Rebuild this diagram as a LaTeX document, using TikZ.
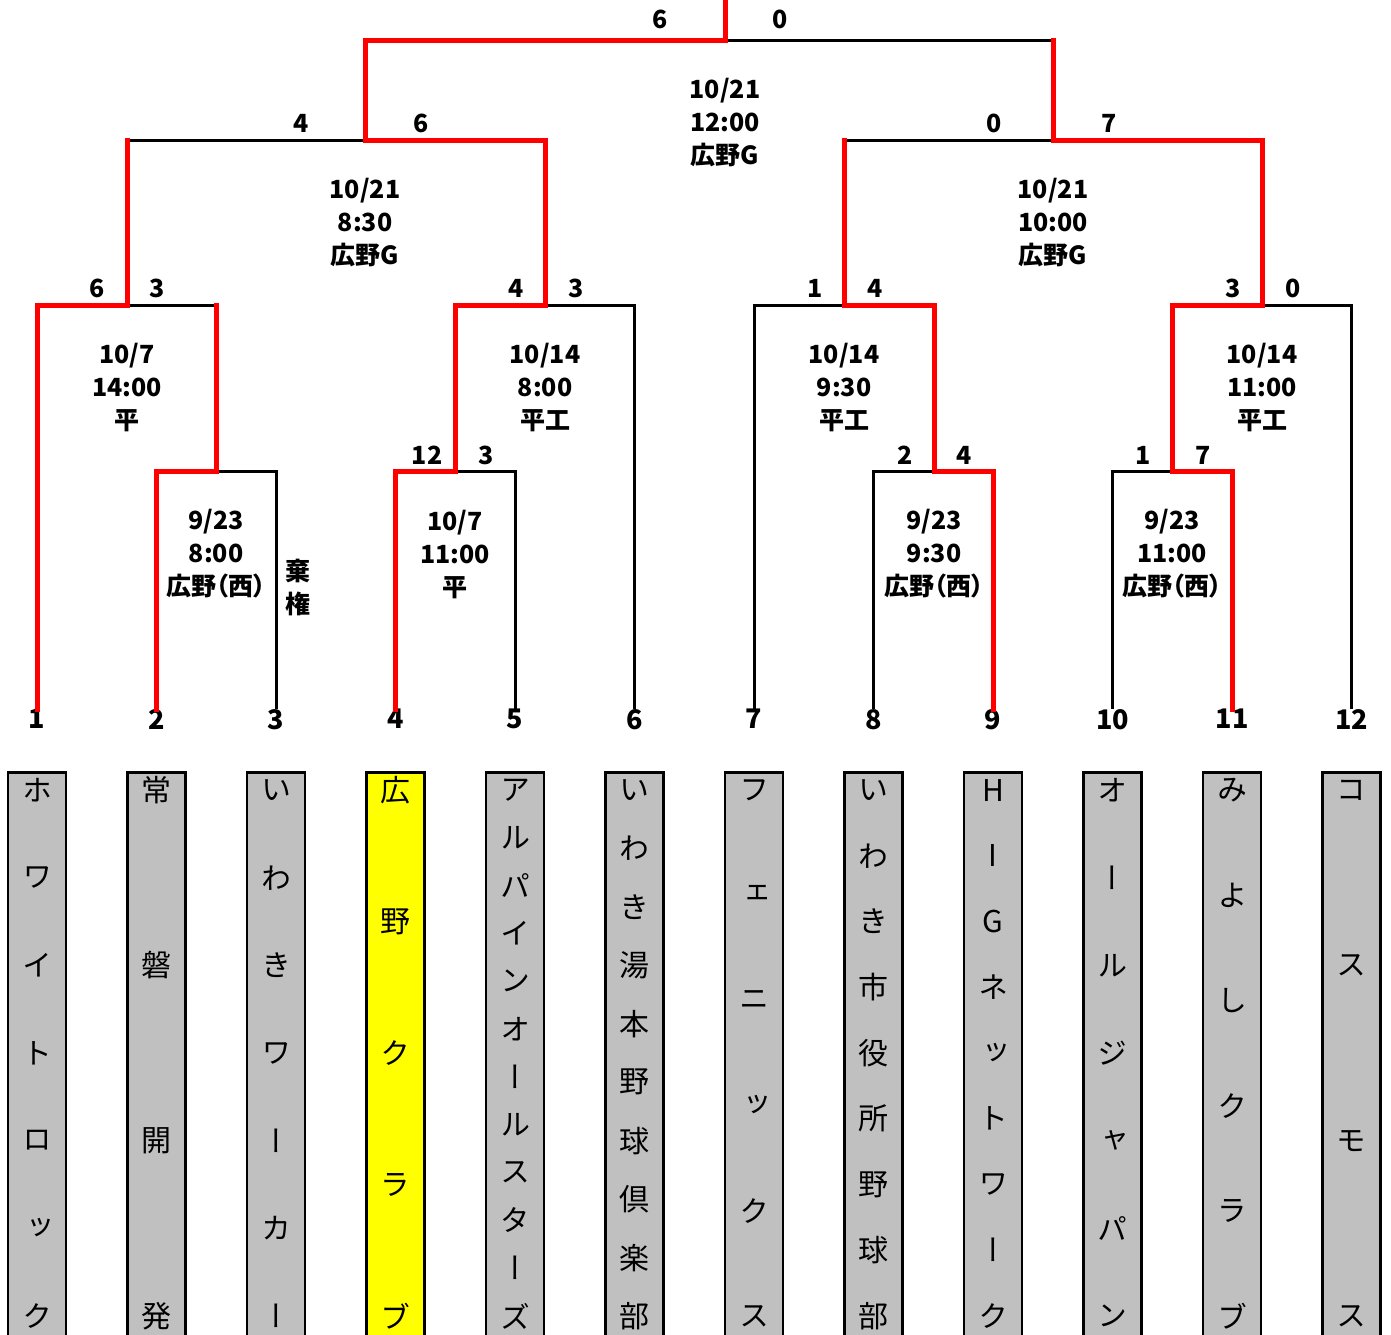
\documentclass[tikz,border=0pt]{standalone}
\usepackage{fontspec}
\setmainfont{Noto Sans CJK JP}
\newfontfamily\tatefont{Noto Sans CJK JP}[RawFeature=+vert]
\newfontfamily\propfont{Noto Sans CJK JP}[RawFeature=+palt]
\usepackage{xcolor}
\usetikzlibrary{positioning}
\definecolor{boxgray}{HTML}{C0C0C0}
\definecolor{winred}{HTML}{FF0000}
\definecolor{clubyellow}{HTML}{FFFF00}

\begin{document}
\begin{tikzpicture}[x=1pt, y=-1pt]
\tikzstyle{win} = [draw, winred, line width=5pt, line cap=rect]
\tikzstyle{lose} = [draw, black, line width=3pt]
\tikzstyle{seed} = [inner sep=0pt, anchor=north, font=\bfseries\fontsize{27}{27}\selectfont]
\tikzstyle{score} = [inner sep=0pt, font=\bfseries\fontsize{25}{25}\selectfont]
\tikzstyle{info} = [inner sep=0pt, align=center, font=\propfont\bfseries\fontsize{25}{33}\selectfont]
\tikzstyle{teambox} = [draw, line width=2.5pt, anchor=north, minimum width=58pt, minimum height=620pt]
\tikzstyle{kana} = [inner sep=0pt, font=\tatefont\fontsize{30}{30}\selectfont]

\useasboundingbox (0,0) rectangle (1391,1334);
\clip (0,0) rectangle (1391,1334);
\fill [white] (0,0) rectangle (1391,1334);

\foreach \tx/\tname/\tn/\tcol [count=\k] in {
  37/{ホ,ワ,イ,ト,ロ,ッ,ク}/7/boxgray,
  156.5/{常,磐,開,発}/4/boxgray,
  276/{い,わ,き,ワ,ー,カ,ー}/7/boxgray,
  395.5/{広,野,ク,ラ,ブ}/5/clubyellow,
  515/{ア,ル,パ,イ,ン,オ,ー,ル,ス,タ,ー,ズ}/12/boxgray,
  634.5/{い,わ,き,湯,本,野,球,倶,楽,部}/10/boxgray,
  754/{フ,ェ,ニ,ッ,ク,ス}/6/boxgray,
  873.5/{い,わ,き,市,役,所,野,球,部}/9/boxgray,
  993/{H,I,G,ネ,ッ,ト,ワ,ー,ク}/9/boxgray,
  1112.5/{オ,ー,ル,ジ,ャ,パ,ン}/7/boxgray,
  1232/{み,よ,し,ク,ラ,ブ}/6/boxgray,
  1351.5/{コ,ス,モ,ス}/4/boxgray} {
  \node [seed] (n\k) at (\tx,709) {\k};
  \node [teambox, fill=\tcol] (team\k) at (\tx,771) {};
  \foreach \c [count=\i] in \tname
    \node [kana] (team\k-\i) at (\tx,{790+(\i-1)*526/(\tn-1)}) {\c};
}

\coordinate (ja) at (216,471);
\coordinate (jb) at (455,471);
\coordinate (jc) at (934,471);
\coordinate (jd) at (1172,471);
\coordinate (je) at (127,305);
\coordinate (jf) at (545,305);
\coordinate (jg) at (844,305);
\coordinate (jh) at (1262,305);
\coordinate (ji) at (365,140);
\coordinate (jj) at (1053,140);
\coordinate (jk) at (725,40);
\coordinate (top) at (725,0);

\path [lose] (n3.north) |- (ja);
\path [lose] (n5.north) |- (jb);
\path [lose] (n6.north) |- (jf);
\path [lose] (n7.north) |- (jg);
\path [lose] (n8.north) |- (jc);
\path [lose] (n10.north) |- (jd);
\path [lose] (n12.north) |- (jh);
\path [lose] (ja |- je) -- (je);
\path [lose] (je |- ji) -- (ji);
\path [lose] (jg |- jj) -- (jj);
\path [lose] (jj |- jk) -- (jk);

\path [win] (n1.north) |- (je) -- (je |- ji);
\path [win] (n2.north) |- (ja) -- (ja |- je);
\path [win] (n4.north) |- (jb) |- (jf) |- (ji) |- (jk) -- (top);
\path [win] (n9.north) |- (jc) |- (jg) -- (jg |- jj);
\path [win] (n11.north) |- (jd) |- (jh) |- (jj) -- (jj |- jk);

\foreach \j/\l/\r/\dl/\dr/\up in {jb/12/3/28/31/16, jc/2/4/29/30/16, jd/1/7/29/31/16,
    je/6/3/30/30/17, jf/4/3/29/31/17, jg/1/4/29/31/17, jh/3/0/29/31/17,
    ji/4/6/64/56/17, jj/0/7/59/56/17, jk/6/0/65/55/21} {
  \node [score] (\j-l) at ([xshift=-\dl pt, yshift=\up pt]\j) {\l};
  \node [score] (\j-r) at ([xshift=\dr pt, yshift=\up pt]\j) {\r};
}

\foreach \j/\txt in {ja/{9/23\\8:00\\広野（西）}, jb/{10/7\\11:00\\平},
    jc/{9/23\\9:30\\広野（西）}, jd/{9/23\\11:00\\広野（西）},
    je/{10/7\\14:00\\平}, jf/{10/14\\8:00\\平工}, jg/{10/14\\9:30\\平工},
    jh/{10/14\\11:00\\平工}, ji/{10/21\\8:30\\広野G}, jj/{10/21\\10:00\\広野G},
    jk/{10/21\\12:00\\広野G}}
  \node [info] (info-\j) at ([yshift=-83pt]\j) {\txt};
\node [info] (forfeit) at (298,587) {棄\\権};
\end{tikzpicture}
\end{document}
